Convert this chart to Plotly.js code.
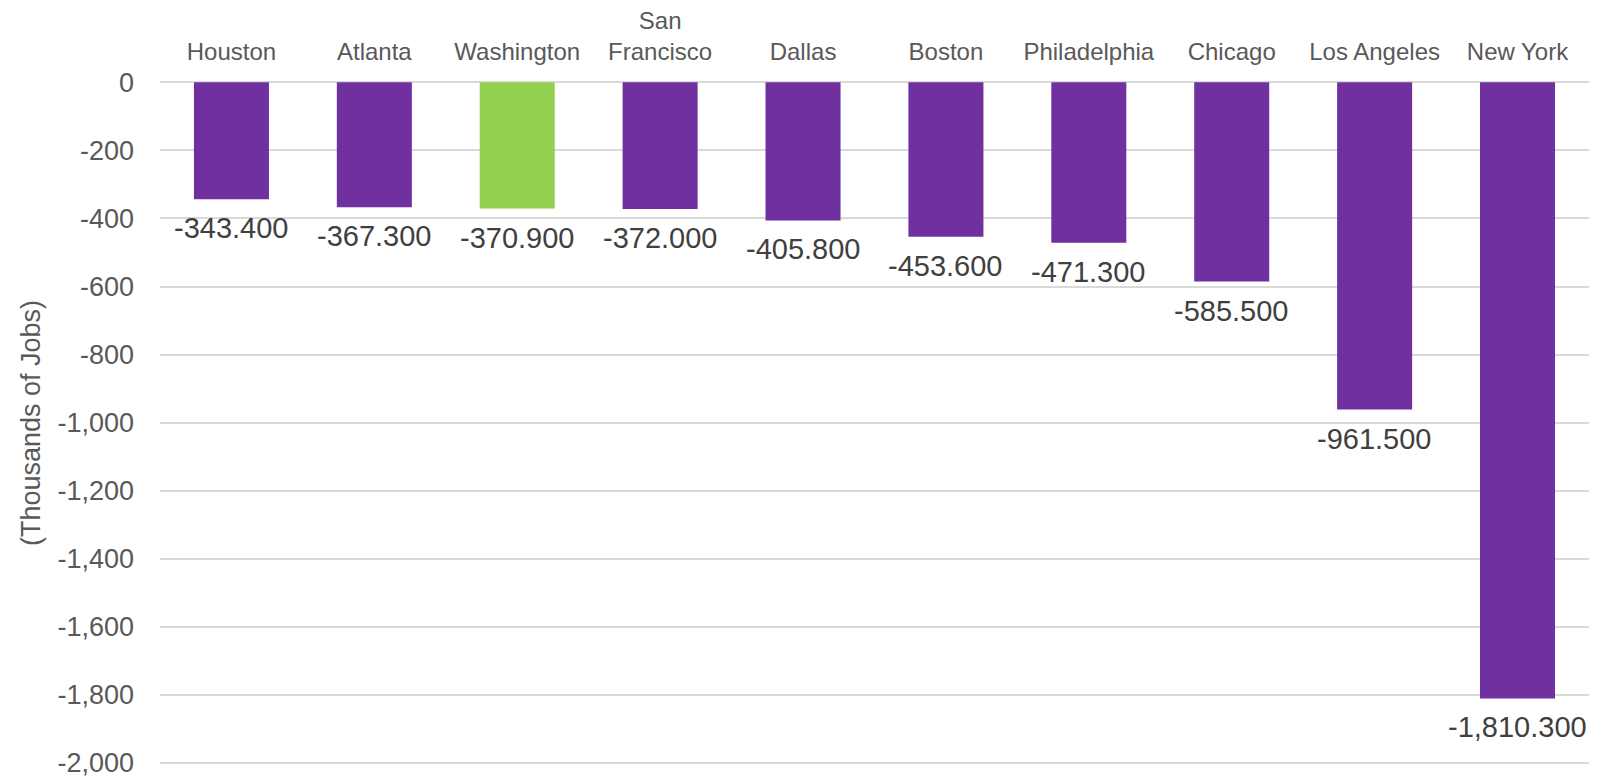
<!DOCTYPE html>
<html>
<head>
<meta charset="utf-8">
<script src="https://cdn.plot.ly/plotly-3.0.1.min.js"></script>
<style>html,body{margin:0;padding:0;background:#fff;}#chart{width:1597px;height:780px;}</style>
</head>
<body>
<div id="chart"></div>
<script>
const cities = ["Houston", "Atlanta", "Washington", "San<br>Francisco", "Dallas", "Boston", "Philadelphia", "Chicago", "Los Angeles", "New York"];
const jobChange = [-343.4, -367.3, -370.9, -372.0, -405.8, -453.6, -471.3, -585.5, -961.5, -1810.3];
const highlight = "Washington";
const tickVals = [0, -200, -400, -600, -800, -1000, -1200, -1400, -1600, -1800, -2000];
const tickText = ["0", "-200", "-400", "-600", "-800", "-1,000", "-1,200", "-1,400", "-1,600", "-1,800", "-2,000"];

const purple = "#7030A0", green = "#92D050";
const colors = cities.map(c => c === highlight ? green : purple);
const labels = jobChange.map(v => v.toLocaleString("en-US", {minimumFractionDigits: 3, maximumFractionDigits: 3}));
const font = "Liberation Sans, Arial, sans-serif";

const annotations = cities.map((c, i) => ({
  x: c, y: jobChange[i], xref: "x", yref: "y",
  text: labels[i], showarrow: false,
  xanchor: "center", yanchor: "top", yshift: -11,
  font: {family: font, size: 29, color: "#404040"}
}));

Plotly.newPlot("chart", [{
  type: "bar",
  x: cities,
  y: jobChange,
  marker: {color: colors},
  cliponaxis: false,
  hoverinfo: "x+y"
}], {
  width: 1597, height: 780,
  margin: {l: 160, r: 8, t: 82, b: 16},
  paper_bgcolor: "#fff", plot_bgcolor: "#fff",
  bargap: 0.475,
  showlegend: false,
  font: {family: font, color: "#595959"},
  annotations: annotations,
  xaxis: {
    side: "top", type: "category", automargin: false,
    tickfont: {family: font, size: 24, color: "#595959"},
    showgrid: false, showline: false, ticks: "", zeroline: false,
    ticklabelstandoff: 16
  },
  yaxis: {
    range: [-2003, 1], automargin: false,
    tickvals: tickVals, ticktext: tickText,
    tickfont: {family: font, size: 27, color: "#595959"},
    ticklabeloverflow: "allow",
    showgrid: true, gridcolor: "#d9d9d9", gridwidth: 2,
    zeroline: true, zerolinecolor: "#d9d9d9", zerolinewidth: 2,
    showline: false, ticks: "", ticklabelstandoff: 25,
    title: {text: "(Thousands of Jobs)", font: {family: font, size: 27, color: "#595959"}, standoff: 8}
  }
}, {displayModeBar: false});
</script>
</body>
</html>
